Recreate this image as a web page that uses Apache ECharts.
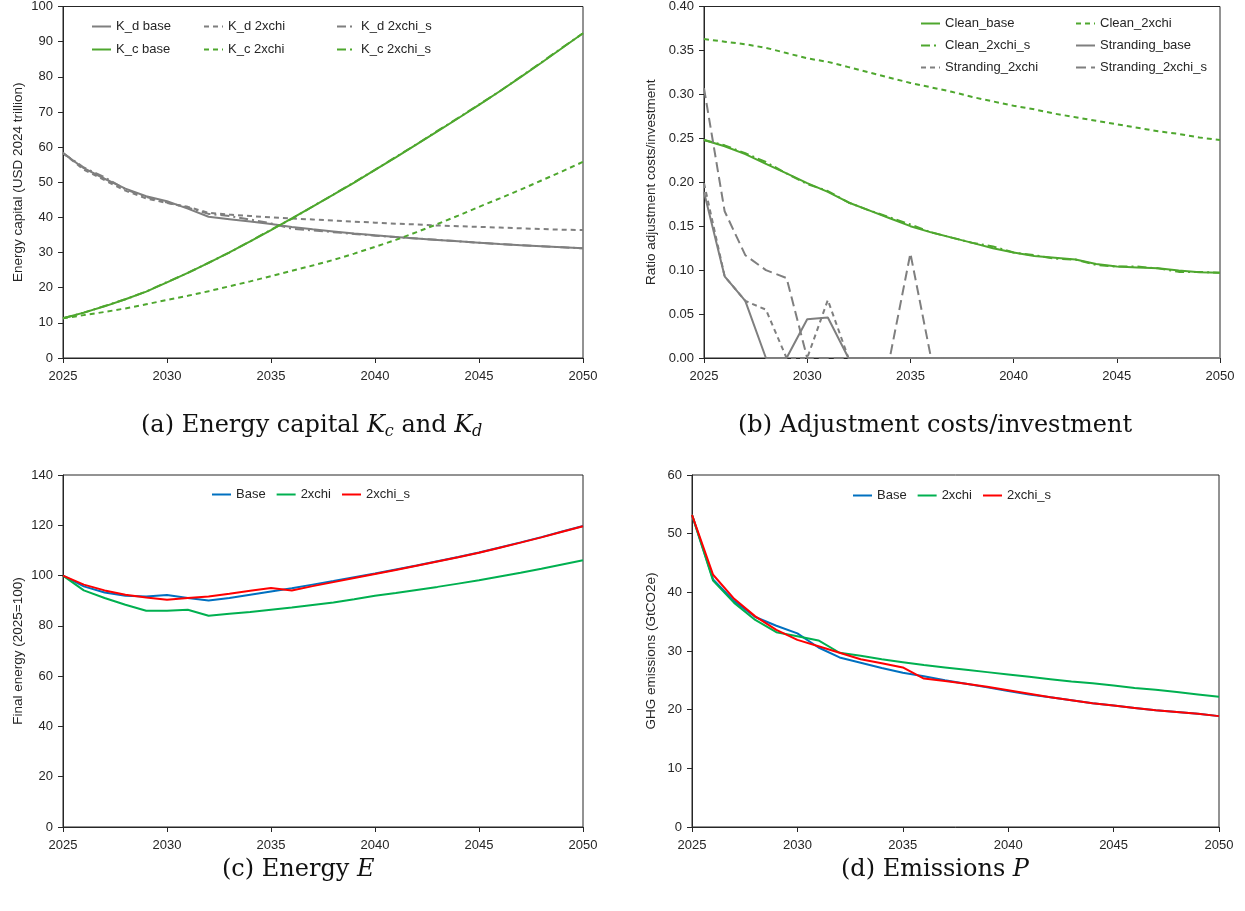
<!DOCTYPE html>
<html>
<head>
<meta charset="utf-8">
<script src="https://cdn.jsdelivr.net/npm/echarts@6/dist/echarts.min.js"></script>
<style>
  html, body { margin: 0; padding: 0; background: #fff; }
  #chart { width: 1245px; height: 911px; }
</style>
</head>
<body>
<div id="chart"></div>
<script>
  var years = [2025, 2026, 2027, 2028, 2029, 2030, 2031, 2032, 2033, 2034, 2035, 2036, 2037,
    2038, 2039, 2040, 2041, 2042, 2043, 2044, 2045, 2046, 2047, 2048, 2049, 2050];

  // (a) energy capital
  var kdBase = [58.3, 54.0, 51.0, 48.2, 46.0, 44.6, 42.5, 40.2, 39.5, 38.8, 38.1, 37.3, 36.6,
    36.0, 35.4, 34.9, 34.4, 34.0, 33.6, 33.2, 32.8, 32.4, 32.1, 31.8, 31.5, 31.2];
  var kd2xchi = [58.3, 53.6, 50.6, 47.6, 45.4, 44.1, 43.0, 41.3, 40.8, 40.4, 40.0, 39.7, 39.4,
    39.1, 38.8, 38.5, 38.2, 38.0, 37.7, 37.5, 37.3, 37.1, 36.9, 36.7, 36.5, 36.4];
  var kd2xchiS = [58.3, 54.2, 51.4, 48.0, 45.8, 44.2, 42.8, 41.0, 40.4, 39.4, 38.3, 36.8, 36.3,
    35.8, 35.3, 34.8, 34.4, 34.0, 33.6, 33.2, 32.8, 32.4, 32.1, 31.8, 31.5, 31.2];
  var kcBase = [11.3, 12.9, 14.7, 16.7, 18.9, 21.5, 24.2, 27.05, 30.05, 33.15, 36.4, 39.7, 43.05,
    46.45, 49.9, 53.5, 57.1, 60.75, 64.45, 68.2, 72.0, 75.9, 79.9, 84.0, 88.2, 92.4];
  var kc2xchi = [11.3, 12.2, 13.1, 14.1, 15.3, 16.5, 17.7, 19.0, 20.4, 21.8, 23.3, 24.8, 26.3,
    27.9, 29.7, 31.6, 33.6, 35.8, 38.1, 40.5, 43.0, 45.4, 47.9, 50.5, 53.1, 55.8];
  var kc2xchiS = [11.3, 12.9, 14.8, 16.7, 18.9, 21.6, 24.2, 27.1, 30.0, 33.2, 36.5, 39.6, 43.1,
    46.5, 50.0, 53.5, 57.2, 60.8, 64.6, 68.3, 72.1, 75.9, 80.0, 84.1, 88.3, 92.4];

  // (b) adjustment costs / investment
  var cleanBase = [0.248, 0.241, 0.232, 0.221, 0.210, 0.199, 0.189, 0.177, 0.168, 0.159, 0.150,
    0.143, 0.137, 0.131, 0.125, 0.120, 0.116, 0.114, 0.112, 0.107, 0.104, 0.103, 0.102, 0.0995,
    0.0977, 0.097];
  var clean2xchi = [0.363, 0.360, 0.357, 0.353, 0.347, 0.341, 0.337, 0.331, 0.325, 0.319, 0.313,
    0.308, 0.303, 0.297, 0.292, 0.287, 0.283, 0.278, 0.274, 0.270, 0.266, 0.262, 0.258, 0.255,
    0.251, 0.248];
  var clean2xchiS = [0.248, 0.242, 0.233, 0.223, 0.210, 0.198, 0.190, 0.177, 0.168, 0.160, 0.152,
    0.143, 0.137, 0.131, 0.127, 0.120, 0.117, 0.113, 0.112, 0.106, 0.104, 0.104, 0.102, 0.098,
    0.098, 0.097];
  var strandBase = [0.189, 0.093, 0.065, 0, 0, 0.044, 0.046, 0, 0, 0, 0, 0, 0,
    0, 0, 0, 0, 0, 0, 0, 0, 0, 0, 0, 0, 0];
  var strand2xchi = [0.199, 0.093, 0.065, 0.055, 0, 0, 0.066, 0, 0, 0, 0, 0, 0,
    0, 0, 0, 0, 0, 0, 0, 0, 0, 0, 0, 0, 0];
  var strand2xchiS = [0.307, 0.167, 0.117, 0.100, 0.091, 0, 0, 0, 0, 0, 0.119, 0, 0,
    0, 0, 0, 0, 0, 0, 0, 0, 0, 0, 0, 0, 0];

  // (c) final energy, 2025=100
  var energyBase = [100, 95.7, 93.3, 92.0, 91.7, 92.3, 91.1, 90.1, 91.1, 92.4, 93.7, 95.0, 96.4,
    97.8, 99.3, 100.8, 102.4, 104.0, 105.7, 107.4, 109.2, 111.2, 113.2, 115.3, 117.5, 119.7];
  var energy2xchi = [100, 94.1, 91.1, 88.4, 86.0, 86.0, 86.4, 84.0, 84.8, 85.5, 86.4, 87.3, 88.3,
    89.3, 90.6, 92.0, 93.1, 94.3, 95.5, 96.8, 98.1, 99.6, 101.1, 102.7, 104.4, 106.1];
  var energy2xchiS = [100, 96.4, 94.1, 92.4, 91.3, 90.4, 91.1, 91.7, 92.8, 94.0, 95.1, 94.1, 95.8,
    97.4, 99.0, 100.6, 102.2, 103.9, 105.6, 107.3, 109.1, 111.1, 113.1, 115.2, 117.4, 119.6];

  // (d) GHG emissions
  var ghgBase = [53.2, 42.2, 38.5, 35.8, 34.3, 33.0, 30.6, 28.9, 28.0, 27.1, 26.3, 25.7, 25.0,
    24.4, 23.8, 23.2, 22.6, 22.1, 21.6, 21.1, 20.7, 20.3, 19.9, 19.6, 19.3, 18.9];
  var ghg2xchi = [53.2, 42.0, 38.2, 35.3, 33.2, 32.5, 31.8, 29.7, 29.2, 28.6, 28.1, 27.6, 27.2,
    26.8, 26.4, 26.0, 25.6, 25.2, 24.8, 24.5, 24.1, 23.7, 23.4, 23.0, 22.6, 22.2];
  var ghg2xchiS = [53.2, 43.0, 38.9, 35.9, 33.6, 31.9, 30.8, 29.7, 28.6, 27.9, 27.2, 25.3, 24.9,
    24.4, 23.9, 23.3, 22.7, 22.1, 21.6, 21.1, 20.7, 20.3, 19.9, 19.6, 19.3, 18.9];

  var GRAY = '#7f7f7f';
  var GREEN = '#4ea72e';
  var DASH = [5, 4];
  var DASHDOT = [9, 4, 2, 4];
  var LONGDASH = [10, 5];
  var FONT = 'Liberation Sans';
  var TXT = '#262626';

  function pairs(vals) {
    return years.map(function (y, i) { return [y, vals[i]]; });
  }

  function line(name, vals, grid, color, dash) {
    return {
      name: name,
      type: 'line',
      xAxisIndex: grid,
      yAxisIndex: grid,
      data: pairs(vals),
      symbol: 'none',
      animation: false,
      lineStyle: { color: color, width: 2, type: dash || 'solid' },
      itemStyle: { color: color }
    };
  }

  var grids = [
    { left: 63, right: 662, top: 5, bottom: 553 },
    { left: 704, right: 25, top: 5, bottom: 553 },
    { left: 63, right: 662, top: 475, bottom: 84 },
    { left: 692, right: 26, top: 475, bottom: 84 }
  ].map(function (g) {
    g.show = true;
    g.borderColor = '#262626';
    g.borderWidth = 1;
    return g;
  });

  function xAx(grid) {
    return {
      type: 'value', gridIndex: grid, min: 2025, max: 2050, interval: 5,
      axisLine: { lineStyle: { color: '#262626', width: 1 } },
      axisTick: { show: true, length: 5, lineStyle: { color: '#262626' } },
      axisLabel: { color: TXT, fontFamily: FONT, fontSize: 13, margin: 12,
        formatter: function (v) { return String(v); } },
      splitLine: { show: false }
    };
  }

  function yAx(grid, max, interval, name, gap, fmt) {
    return {
      type: 'value', gridIndex: grid, min: 0, max: max, interval: interval,
      name: name, nameLocation: 'middle', nameGap: gap,
      nameTextStyle: { color: TXT, fontFamily: FONT, fontSize: 13.5 },
      axisLine: { show: true, lineStyle: { color: '#262626', width: 1 } },
      axisTick: { show: true, length: 5, lineStyle: { color: '#262626' } },
      axisLabel: { color: TXT, fontFamily: FONT, fontSize: 13, margin: 10, formatter: fmt },
      splitLine: { show: false }
    };
  }

  function legend(data, left, top, orient, gap) {
    return {
      data: data, left: left, top: top, orient: orient, padding: 0,
      itemWidth: 19, itemHeight: 10, itemGap: gap,
      itemStyle: { opacity: 0 },
      textStyle: { color: TXT, fontFamily: FONT, fontSize: 13 },
      selectedMode: false
    };
  }

  var SERIF = 'DejaVu Serif';
  var capRich = {
    n: { fontFamily: SERIF, fontSize: 24, fontWeight: 'normal', lineHeight: 32, color: '#111' },
    i: { fontFamily: SERIF, fontSize: 24, fontWeight: 'normal', fontStyle: 'italic', lineHeight: 32, color: '#111' },
    s: { fontFamily: SERIF, fontSize: 16, fontWeight: 'normal', fontStyle: 'italic', lineHeight: 21,
      padding: [11, 0, 0, 0], color: '#111' }
  };
  function caption(text, left, top) {
    return { text: text, left: left, top: top, padding: 0,
      textStyle: { fontWeight: 'normal', rich: capRich } };
  }

  var chart = echarts.init(document.getElementById('chart'));
  chart.setOption({
    backgroundColor: '#fff',
    animation: false,
    title: [
      caption('{n|(a) Energy capital }{i|K}{s|c}{n| and }{i|K}{s|d}', 141, 410),
      caption('{n|(b) Adjustment costs/investment}', 738, 410),
      caption('{n|(c) Energy }{i|E}', 222, 854),
      caption('{n|(d) Emissions }{i|P}', 841, 854)
    ],
    grid: grids,
    xAxis: [xAx(0), xAx(1), xAx(2), xAx(3)],
    yAxis: [
      yAx(0, 100, 10, 'Energy capital (USD 2024 trillion)', 38),
      yAx(1, 0.4, 0.05, 'Ratio adjustment costs/investment', 46, function (v) { return v.toFixed(2); }),
      yAx(2, 140, 20, 'Final energy (2025=100)', 38),
      yAx(3, 60, 10, 'GHG emissions (GtCO2e)', 34)
    ],
    legend: [
      legend(['K_d base', 'K_c base'], 91, 20, 'vertical', 10),
      legend(['K_d 2xchi', 'K_c 2xchi'], 203, 20, 'vertical', 10),
      legend(['K_d 2xchi_s', 'K_c 2xchi_s'], 336, 20, 'vertical', 10),
      legend(['Clean_base', 'Clean_2xchi_s', 'Stranding_2xchi'], 920, 17, 'vertical', 9),
      legend(['Clean_2xchi', 'Stranding_base', 'Stranding_2xchi_s'], 1075, 17, 'vertical', 9),
      legend(['Base', '2xchi', '2xchi_s'], 211, 488, 'horizontal', 10),
      legend(['Base', '2xchi', '2xchi_s'], 852, 489, 'horizontal', 10)
    ],
    series: [
      line('K_d base', kdBase, 0, GRAY),
      line('K_d 2xchi', kd2xchi, 0, GRAY, DASH),
      line('K_d 2xchi_s', kd2xchiS, 0, GRAY, DASHDOT),
      line('K_c base', kcBase, 0, GREEN),
      line('K_c 2xchi', kc2xchi, 0, GREEN, DASH),
      line('K_c 2xchi_s', kc2xchiS, 0, GREEN, DASHDOT),

      line('Clean_base', cleanBase, 1, GREEN),
      line('Clean_2xchi', clean2xchi, 1, GREEN, DASH),
      line('Clean_2xchi_s', clean2xchiS, 1, GREEN, DASHDOT),
      line('Stranding_base', strandBase, 1, GRAY),
      line('Stranding_2xchi', strand2xchi, 1, GRAY, DASH),
      line('Stranding_2xchi_s', strand2xchiS, 1, GRAY, LONGDASH),

      line('Base', energyBase, 2, '#0070c0'),
      line('2xchi', energy2xchi, 2, '#00b050'),
      line('2xchi_s', energy2xchiS, 2, '#ff0000'),

      line('Base', ghgBase, 3, '#0070c0'),
      line('2xchi', ghg2xchi, 3, '#00b050'),
      line('2xchi_s', ghg2xchiS, 3, '#ff0000')
    ]
  });
</script>
</body>
</html>
